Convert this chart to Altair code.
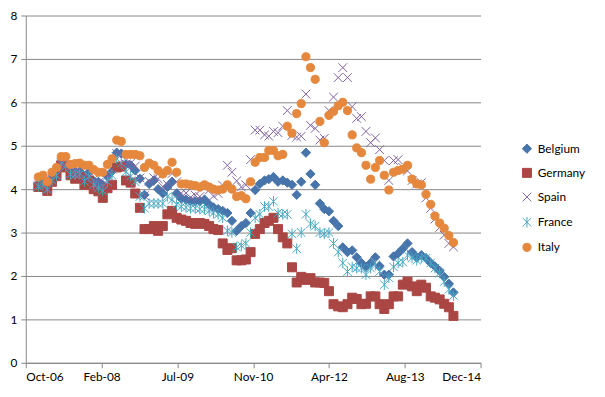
import altair as alt
import pandas as pd

# Monthly observations, Jan 2007 .. Jul 2014 (91 points)
dates = pd.date_range("2007-01-01", "2014-07-01", freq="MS").strftime("%Y-%m-%d").tolist()

countries = ["Belgium", "Germany", "Spain", "France", "Italy"]

belgium = [4.12, 4.15, 4.03, 4.25, 4.37, 4.64, 4.60, 4.41, 4.40, 4.41, 4.25, 4.39, 4.19, 4.17, 4.10, 4.30, 4.41, 4.84,
           4.82, 4.57, 4.55, 4.43, 4.24, 3.87, 4.12, 4.20, 4.00, 3.90, 4.05, 4.17,
           3.90, 3.78, 3.76, 3.72, 3.72, 3.72, 3.76, 3.65, 3.58, 3.54,
           3.50, 3.45, 3.27, 3.04, 3.15, 3.22, 3.45, 3.98, 4.12, 4.20,
           4.23, 4.28, 4.17, 4.20, 4.15, 4.10, 3.87, 4.17, 4.84, 4.35,
           4.10, 3.67, 3.54, 3.49, 3.27, 3.15, 2.66, 2.55, 2.59, 2.43,
           2.30, 2.21, 2.30, 2.43, 2.23, 2.03, 2.03, 2.45, 2.52, 2.63,
           2.75, 2.55, 2.43, 2.48, 2.41, 2.30, 2.22, 2.12, 1.98, 1.82,
           1.62]

germany = [4.05, 4.05, 3.96, 4.17, 4.30, 4.55, 4.50, 4.32, 4.24, 4.28,
           4.10, 4.20, 4.00, 3.95, 3.80, 4.02, 4.10, 4.50, 4.52, 4.20,
           4.15, 3.90, 3.57, 3.08, 3.08, 3.15, 3.04, 3.15, 3.42, 3.50,
           3.34, 3.30, 3.27, 3.22, 3.20, 3.22, 3.20, 3.15, 3.08, 3.06,
           2.75, 2.60, 2.64, 2.36, 2.36, 2.38, 2.55, 2.97, 3.08, 3.22,
           3.27, 3.34, 3.08, 2.89, 2.75, 2.20, 1.85, 1.98, 1.91, 1.95,
           1.85, 1.85, 1.84, 1.65, 1.35, 1.30, 1.28, 1.35, 1.50, 1.47,
           1.35, 1.36, 1.53, 1.53, 1.35, 1.24, 1.35, 1.53, 1.53, 1.80,
           1.87, 1.76, 1.65, 1.80, 1.73, 1.53, 1.50, 1.46, 1.36, 1.28,
           1.08]

spain = [4.10, 4.14, 4.01, 4.23, 4.34, 4.61, 4.57, 4.38, 4.38, 4.40,
         4.26, 4.41, 4.22, 4.15, 4.10, 4.32, 4.46, 4.82, 4.79, 4.58,
         4.60, 4.53, 4.26, 3.85, 4.18, 4.26, 4.24, 4.06, 4.11, 4.36,
         4.17, 3.91, 3.91, 3.81, 3.86, 3.83, 4.05, 3.98, 3.84, 3.90,
         4.09, 4.55, 4.39, 4.19, 4.05, 4.10, 4.68, 5.36, 5.36, 5.25,
         5.22, 5.33, 5.30, 5.45, 5.81, 5.24, 5.20, 5.22, 6.19, 5.47,
         5.40, 5.13, 5.17, 5.81, 6.12, 6.57, 6.80, 6.57, 5.90, 5.63,
         5.67, 5.33, 5.07, 5.18, 4.91, 4.66, 4.20, 4.66, 4.68, 4.50,
         4.42, 4.20, 4.12, 4.15, 3.80, 3.56, 3.31, 3.12, 2.94, 2.75,
         2.67]

france = [4.06, 4.10, 3.99, 4.20, 4.31, 4.58, 4.53, 4.34, 4.33, 4.35,
          4.18, 4.30, 4.10, 4.03, 3.96, 4.17, 4.32, 4.70, 4.60, 4.40,
          4.30, 4.17, 3.83, 3.56, 3.67, 3.67, 3.67, 3.67, 3.83, 3.76,
          3.65, 3.60, 3.58, 3.56, 3.56, 3.54, 3.54, 3.50, 3.45, 3.42,
          3.34, 3.04, 3.00, 2.66, 2.70, 2.75, 3.00, 3.34, 3.42, 3.60,
          3.60, 3.72, 3.45, 3.42, 3.42, 2.97, 2.63, 3.00, 3.42, 3.20,
          3.15, 3.00, 2.97, 3.00, 2.75, 2.55, 2.30, 2.10, 2.21, 2.18,
          2.18, 2.03, 2.18, 2.25, 2.10, 1.80, 1.96, 2.21, 2.30, 2.32,
          2.48, 2.42, 2.36, 2.41, 2.41, 2.30, 2.18, 2.07, 1.87, 1.69,
          1.55]

italy = [4.28, 4.32, 4.17, 4.39, 4.50, 4.75, 4.75, 4.57, 4.59, 4.60,
         4.55, 4.55, 4.45, 4.39, 4.39, 4.57, 4.70, 5.13, 5.10, 4.80,
         4.80, 4.80, 4.77, 4.50, 4.60, 4.55, 4.43, 4.35, 4.43, 4.62,
         4.39, 4.12, 4.12, 4.10, 4.08, 4.05, 4.10, 4.05, 4.00, 3.98,
         4.00, 4.10, 4.00, 3.83, 3.85, 3.78, 4.17, 4.62, 4.73, 4.73,
         4.89, 4.89, 4.77, 4.80, 5.45, 5.29, 5.74, 5.97, 7.05, 6.80,
         6.53, 5.56, 5.07, 5.70, 5.79, 5.92, 6.00, 5.81, 5.25, 4.95,
         4.84, 4.55, 4.23, 4.50, 4.66, 4.32, 3.98, 4.39, 4.43, 4.46,
         4.55, 4.23, 4.12, 4.10, 3.88, 3.65, 3.38, 3.22, 3.10, 2.93,
         2.77]

y_ticks = [0, 1, 2, 3, 4, 5, 6, 7, 8]
x_tick_dates = [(2006, 10, 10), (2008, 2, 22), (2009, 7, 6), (2010, 11, 18),
                (2012, 4, 1), (2013, 8, 14), (2014, 12, 27)]

series = {"Belgium": belgium, "Germany": germany, "Spain": spain, "France": france, "Italy": italy}
rows = []
for c in countries:
    for d, v in zip(dates, series[c]):
        rows.append({"date": d, "country": c, "value": v})
df = pd.DataFrame(rows)

stroke_colors = ["#4674AB", "#AA4643", "#7E62A1", "#45A8C4", "#E5883D"]
fill_colors = ["#4674AB", "#AA4643", "transparent", "transparent", "#E5883D"]
shapes = ["diamond", "square", "M-1,-1L1,1M-1,1L1,-1",
          "M-1,-1L1,1M-1,1L1,-1M0,-1.25L0,1.25", "circle"]
sizes = [88, 68, 100, 100, 100]

x_vals = [alt.DateTime(year=y, month=m, date=d, utc=True) for (y, m, d) in x_tick_dates]

leg = alt.Legend(title=None, orient="none", legendX=502, legendY=129)

chart = alt.Chart(df).mark_point(opacity=1, strokeWidth=1).encode(
    x=alt.X("date:T",
            scale=alt.Scale(type="utc", domain=[x_vals[0], x_vals[-1]], nice=False),
            axis=alt.Axis(values=x_vals, labelExpr="utcFormat(datum.value, '%b-%y')",
                          grid=False, title=None, tickSize=5, labelPadding=4)),
    y=alt.Y("value:Q", scale=alt.Scale(domain=[0, 8], nice=False),
            axis=alt.Axis(values=y_ticks, title=None, tickSize=5, labelPadding=4, grid=True)),
    stroke=alt.Stroke("country:N", scale=alt.Scale(domain=countries, range=stroke_colors), legend=leg),
    fill=alt.Fill("country:N", scale=alt.Scale(domain=countries, range=fill_colors), legend=leg),
    shape=alt.Shape("country:N", scale=alt.Scale(domain=countries, range=shapes), legend=leg),
    size=alt.Size("country:N", scale=alt.Scale(domain=countries, range=sizes), legend=leg),
).properties(
    width=461, height=352,
    autosize="none",
    padding={"left": 18, "top": 5, "right": 118, "bottom": 28},
    background="white",
).configure_view(stroke=None).configure_axis(
    domainColor="#868686", tickColor="#868686", gridColor="#868686",
    labelFont="Lato", labelFontSize=12, labelColor="#000000",
).configure_legend(
    symbolStrokeWidth=1, labelFontSize=12,
    labelFont="Lato", labelColor="#000000", rowPadding=10.5,
    labelOffset=5, padding=0,
)

chart.save("out.html", embed_options={"renderer": "svg", "actions": False})
